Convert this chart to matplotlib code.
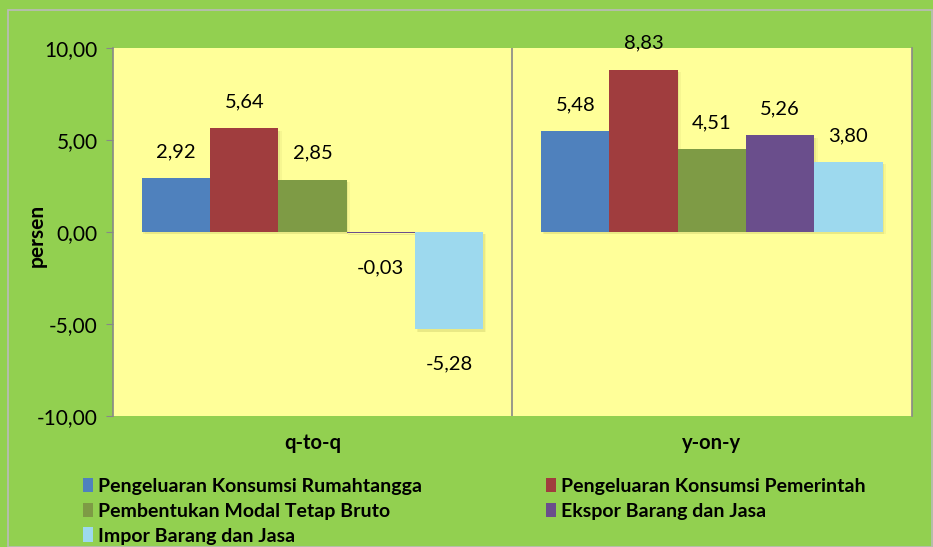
import matplotlib
matplotlib.use("Agg")
import matplotlib.pyplot as plt
from matplotlib.patches import Patch
import numpy as np

categories = ["q-to-q", "y-on-y"]
series_names = ["Pengeluaran Konsumsi Rumahtangga", "Pengeluaran Konsumsi Pemerintah",
                "Pembentukan Modal Tetap Bruto", "Ekspor Barang dan Jasa",
                "Impor Barang dan Jasa"]
rumahtangga = [2.92, 5.48]
pemerintah = [5.64, 8.83]
pmtb = [2.85, 4.51]
ekspor = [-0.03, 5.26]
impor = [-5.28, 3.80]
yticks = [-10, -5, 0, 5, 10]

series = [rumahtangga, pemerintah, pmtb, ekspor, impor]
colors = ["#4F81BD", "#A03D3E", "#7E9B45", "#6A4E8C", "#9DD9EE"]

plt.rcParams['font.family'] = ['Lato', 'DejaVu Sans']

fig = plt.figure(figsize=(9.33, 5.47), dpi=100, facecolor="#92D050")
ax = fig.add_axes([0.121, 0.239, 0.856, 0.673])
ax.set_facecolor("#FFFF99")

x = np.arange(len(categories))
w = 0.171
offsets = (np.arange(5) - 2) * w
for i, (vals, c) in enumerate(zip(series, colors)):
    xs = x + offsets[i]
    # soft shadow
    for k, a in [(0.004, 0.08), (0.008, 0.05)]:
        ax.bar(xs + k, vals, w, bottom=-0.12, color="#555500",
               alpha=a, zorder=2, linewidth=0)
    ax.bar(xs, vals, w, color=c, zorder=3, linewidth=0)
    for xi, v in zip(xs, vals):
        off = 19 if v >= 0 else -25
        ax.annotate(f"{v:.2f}".replace(".", ","), (xi, v), xytext=(0, off),
                    textcoords="offset points", ha="center", va="center",
                    fontsize=14.5, color="black", annotation_clip=False, zorder=5)

ax.set_xlim(-0.5, 1.5)
ax.set_ylim(-10, 10)
ax.set_yticks(yticks)
ax.set_yticklabels([f"{t:.2f}".replace(".", ",") for t in yticks], fontsize=15)
ax.tick_params(axis='y', direction='out', length=5, color="#888888", pad=6)
ax.set_xticks(x)
ax.set_xticklabels(categories, fontsize=14.5, fontweight="bold")
ax.tick_params(axis='x', length=0, pad=12)
ax.axvline(0.5, color="#888888", lw=1.2, zorder=1)
for s in ["top", "bottom"]:
    ax.spines[s].set_visible(False)
for s in ["left", "right"]:
    ax.spines[s].set_color("#888888")
    ax.spines[s].set_linewidth(1.2)
ax.set_ylabel("persen", fontsize=15, fontweight="bold")
ax.yaxis.set_label_coords(-0.083, 0.49)

handles = [Patch(facecolor=c, edgecolor="none") for c in colors]
order = [0, 2, 4, 1, 3]
leg = fig.legend([handles[i] for i in order], [series_names[i] for i in order],
                 ncol=2, loc="upper left", bbox_to_anchor=(0.089, 0.127),
                 frameon=False, prop={'weight': 'bold', 'size': 14},
                 handlelength=0.5, handleheight=0.8, handletextpad=0.25,
                 labelspacing=0.4, columnspacing=6.4, borderpad=0, borderaxespad=0)

# outer border
fig.patches.append(plt.Rectangle((0.009, 0.0), 0.99, 0.982, transform=fig.transFigure,
                                 fill=False, edgecolor="#BBBBBB", lw=1.2))

fig.savefig("out.png", dpi=100, facecolor=fig.get_facecolor())
